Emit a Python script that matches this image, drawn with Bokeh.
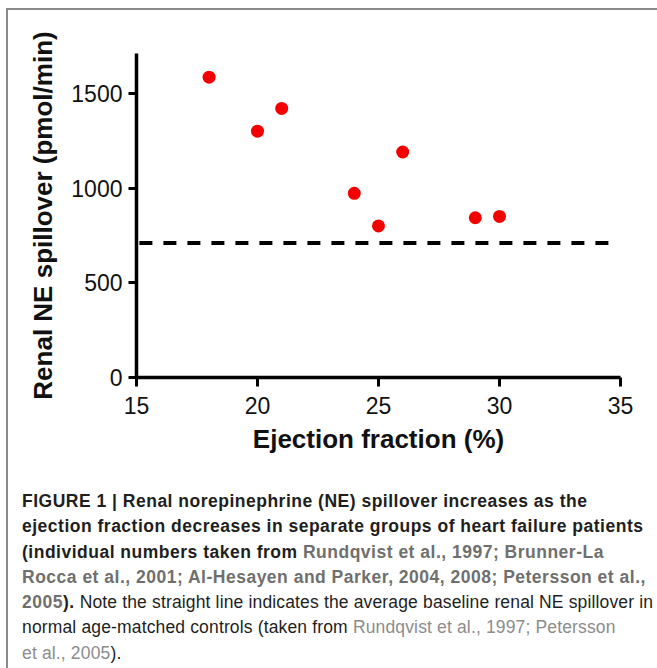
from bokeh.plotting import figure
from bokeh.models import Div, Range1d, FixedTicker
from bokeh.layouts import column
from bokeh.embed import file_html
from bokeh.resources import INLINE

# ---- data ----
ejection_fraction = [18, 20, 21, 24, 25, 26, 29, 30]
renal_ne_spillover = [1585, 1300, 1420, 972, 800, 1190, 843, 850]
baseline_x = [15.12, 34.67]
baseline_value = 710
x_ticks = [15, 20, 25, 30, 35]
y_ticks = [0, 500, 1000, 1500]
x_label = "Ejection fraction (%)"
y_label = "Renal NE spillover (pmol/min)"

FONT = "Liberation Sans"

p = figure(width=649, height=470,
           x_range=Range1d(15, 35), y_range=Range1d(0, 1710),
           output_backend="svg", toolbar_location=None,
           min_border_left=128, min_border_right=37,
           min_border_top=43, min_border_bottom=103)

p.background_fill_color = "white"
p.border_fill_color = "white"
p.outline_line_color = None
p.xgrid.visible = False
p.ygrid.visible = False

p.line(baseline_x, [baseline_value, baseline_value], line_color="black",
       line_width=4, line_dash="13 11")
p.scatter(ejection_fraction, renal_ne_spillover, size=13,
          fill_color="#f50000", line_color=None)

for ax, ticks, out in ((p.xaxis, x_ticks, 9), (p.yaxis, y_ticks, 8)):
    ax.ticker = FixedTicker(ticks=ticks)
    ax.minor_tick_line_color = None
    ax.axis_line_width = 3.5
    ax.axis_line_color = "black"
    ax.major_tick_line_width = 3
    ax.major_tick_line_color = "black"
    ax.major_tick_in = 0
    ax.major_tick_out = out
    ax.major_label_text_font = FONT
    ax.major_label_text_font_size = "23px"
    ax.major_label_text_color = "#111111"
    ax.axis_label_text_font = FONT
    ax.axis_label_text_font_size = "26px"
    ax.axis_label_text_font_style = "bold"
    ax.axis_label_text_color = "#111111"

p.xaxis.axis_label = x_label
p.yaxis.axis_label = y_label
p.xaxis.major_label_standoff = 10
p.xaxis.axis_label_standoff = 7
p.yaxis.major_label_standoff = 6
p.yaxis.axis_label_standoff = 10

GB = "color:#6f6f6f"
GR = "color:#8c8c8c"
caption = (
    '<div style="padding:4px 0 0 9px; font-family:\'Liberation Sans\'; '
    'font-size:17.5px; line-height:25.3px; color:#1e1e1e; white-space:nowrap;">'
    '<span style="font-weight:bold; letter-spacing:0.5px;">'
    'FIGURE 1 | Renal norepinephrine (NE) spillover increases as the<br>'
    'ejection fraction decreases in separate groups of heart failure patients<br>'
    '(individual numbers taken from <span style="%s">Rundqvist et al., 1997; Brunner-La</span><br>'
    '<span style="%s">Rocca et al., 2001; Al-Hesayen and Parker, 2004, 2008; Petersson et al.,</span><br>'
    '<span style="%s">2005</span>).</span>'
    '<span style="letter-spacing:0.15px;"> Note the straight line indicates the average baseline renal NE spillover in<br>'
    'normal age-matched controls (taken from <span style="%s">Rundqvist et al., 1997; Petersson</span><br>'
    '<span style="%s">et al., 2005</span>).</span>'
    '</div>'
) % (GB, GB, GB, GR, GR)

div = Div(text=caption, width=649, height=188)

layout = column(p, div, spacing=0,
                styles={"border-left": "2px solid #8a8a8a",
                        "border-top": "2px solid #8a8a8a",
                        "margin-left": "6px",
                        "margin-top": "8px",
                        "background-color": "white"})

open("out.html", "w").write(file_html(layout, INLINE))
